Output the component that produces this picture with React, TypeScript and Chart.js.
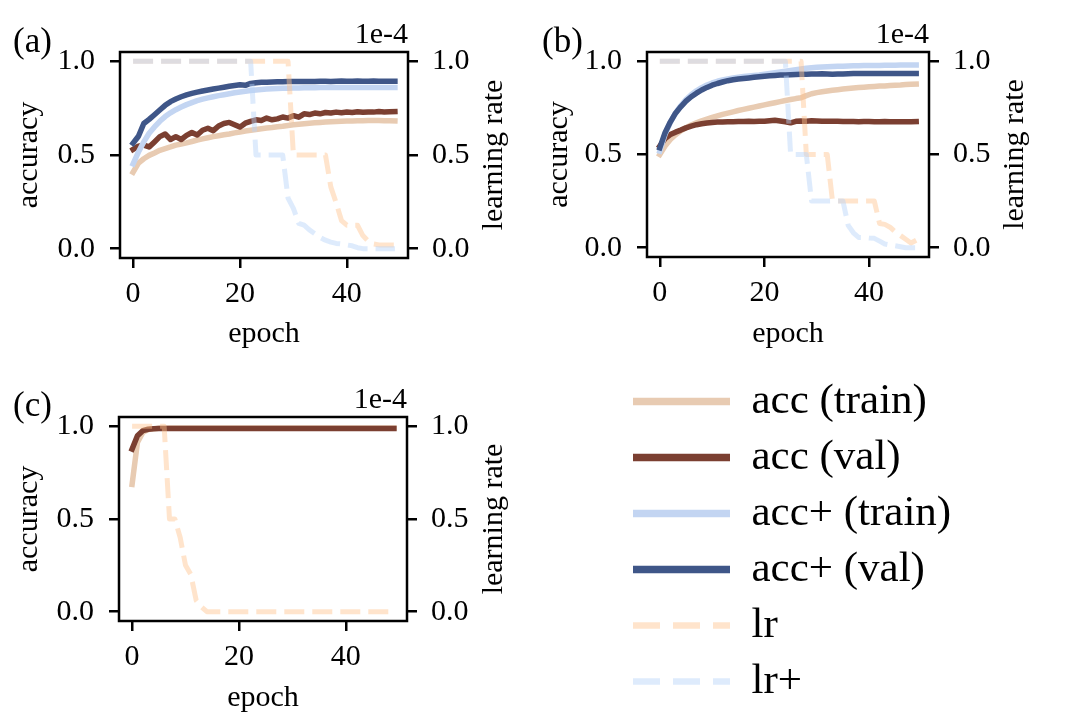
import { useEffect, useRef } from "react"
import { Chart, registerables } from "chart.js"

// Register Chart.js components
Chart.register(...registerables)

const SERIF = "'Liberation Serif', 'Times New Roman', Times, serif"

// x categories: epochs 0..49
const epochs = Array.from({ length: 50 }, (_, i) => i)
const epochTicks = [0, 20, 40]
const accTicks = [0, 0.5, 1]
const lrTicks = [0, 0.5, 1] // learning rate in units of 1e-4

// ---- panel (a) ----
const accTrainA = [
  0.408, 0.457, 0.48, 0.498, 0.511, 0.525, 0.534, 0.543, 0.553, 0.559,
  0.565, 0.572, 0.58, 0.586, 0.592, 0.598, 0.603, 0.608, 0.612, 0.618,
  0.623, 0.628, 0.632, 0.636, 0.64, 0.644, 0.647, 0.651, 0.654, 0.658,
  0.661, 0.664, 0.667, 0.67, 0.672, 0.674, 0.676, 0.678, 0.679, 0.68,
  0.681, 0.682, 0.683, 0.683, 0.684, 0.684, 0.684, 0.683, 0.683, 0.682,
]
const accValA = [
  0.53, 0.547, 0.553, 0.543, 0.57, 0.598, 0.612, 0.583, 0.598, 0.583,
  0.605, 0.62, 0.607, 0.632, 0.643, 0.63, 0.655, 0.668, 0.674, 0.662,
  0.649, 0.67, 0.68, 0.688, 0.684, 0.697, 0.688, 0.693, 0.703, 0.697,
  0.71, 0.702, 0.72, 0.716, 0.724, 0.72, 0.727, 0.724, 0.729, 0.726,
  0.73, 0.727, 0.731, 0.728, 0.73, 0.729, 0.732, 0.73, 0.731, 0.732,
]
const accPlusTrainA = [
  0.453, 0.516, 0.57, 0.616, 0.65, 0.68, 0.705, 0.725, 0.742, 0.756,
  0.769, 0.78, 0.79, 0.798, 0.805, 0.811, 0.817, 0.822, 0.827, 0.832,
  0.836, 0.84, 0.844, 0.847, 0.85, 0.852, 0.854, 0.855, 0.856, 0.857,
  0.858, 0.858, 0.859, 0.859, 0.859, 0.86, 0.86, 0.86, 0.86, 0.86,
  0.86, 0.86, 0.86, 0.86, 0.86, 0.86, 0.86, 0.86, 0.86, 0.86,
]
const accPlusValA = [
  0.563, 0.6, 0.668, 0.69, 0.715, 0.74, 0.765, 0.785, 0.799, 0.811,
  0.821, 0.829, 0.836, 0.842, 0.847, 0.852, 0.857, 0.862, 0.867, 0.871,
  0.875, 0.872, 0.882, 0.886, 0.888, 0.889, 0.89, 0.891, 0.891, 0.892,
  0.892, 0.893, 0.893, 0.892, 0.893, 0.894, 0.894, 0.893, 0.894, 0.895,
  0.894, 0.894, 0.895, 0.894, 0.894, 0.895, 0.894, 0.894, 0.894, 0.894,
]
const lrA = [
  1, 1, 1, 1, 1, 1, 1, 1, 1, 1,
  1, 1, 1, 1, 1, 1, 1, 1, 1, 1,
  1, 1, 1, 1, 1, 1, 1, 1, 1, 1,
  0.5, 0.5, 0.5, 0.5, 0.5, 0.5, 0.5, 0.33, 0.245, 0.15,
  0.125, 0.125, 0.125, 0.07, 0.04, 0.025, 0.02, 0.02, 0.02, 0.02,
]
const lrPlusA = [
  1, 1, 1, 1, 1, 1, 1, 1, 1, 1,
  1, 1, 1, 1, 1, 1, 1, 1, 1, 1,
  1, 1, 1, 0.5, 0.5, 0.5, 0.5, 0.5, 0.5, 0.27,
  0.215, 0.135, 0.125, 0.1, 0.08, 0.06, 0.045, 0.035, 0.028, 0.025,
  0.02, 0.015, 0.005, 0, 0, 0, 0, 0, 0, 0,
]

// ---- panel (b) ----
const accTrainB = [
  0.5, 0.545, 0.58, 0.606, 0.627, 0.644, 0.658, 0.67, 0.681, 0.69,
  0.699, 0.707, 0.715, 0.722, 0.729, 0.736, 0.742, 0.748, 0.754, 0.76,
  0.766, 0.772, 0.778, 0.784, 0.79, 0.795, 0.8, 0.804, 0.816, 0.826,
  0.832, 0.837, 0.841, 0.845, 0.848, 0.851, 0.854, 0.857, 0.859, 0.861,
  0.863, 0.865, 0.867, 0.868, 0.87, 0.872, 0.873, 0.875, 0.877, 0.878,
]
const accValB = [
  0.545, 0.585, 0.607, 0.62, 0.631, 0.643, 0.652, 0.66, 0.665, 0.669,
  0.672, 0.674, 0.675, 0.676, 0.676, 0.677, 0.677, 0.678, 0.677, 0.679,
  0.678, 0.681, 0.684, 0.68, 0.676, 0.67, 0.678, 0.68, 0.679, 0.681,
  0.68, 0.679, 0.679, 0.678, 0.678, 0.677, 0.677, 0.677, 0.676, 0.677,
  0.677, 0.676, 0.676, 0.677, 0.676, 0.676, 0.676, 0.676, 0.676, 0.677,
]
const accPlusTrainB = [
  0.518, 0.608, 0.672, 0.722, 0.762, 0.795, 0.821, 0.842, 0.859, 0.873,
  0.884, 0.893, 0.9, 0.906, 0.911, 0.915, 0.918, 0.921, 0.924, 0.927,
  0.931, 0.935, 0.939, 0.943, 0.947, 0.951, 0.955, 0.959, 0.963, 0.966,
  0.968, 0.97, 0.971, 0.972, 0.973, 0.974, 0.975, 0.976, 0.976, 0.977,
  0.977, 0.978, 0.978, 0.979, 0.979, 0.979, 0.98, 0.98, 0.98, 0.98,
]
const accPlusValB = [
  0.536, 0.617, 0.674, 0.722, 0.756, 0.786, 0.81, 0.829, 0.846, 0.86,
  0.872, 0.881, 0.889, 0.896, 0.901, 0.905, 0.908, 0.911, 0.914, 0.917,
  0.92, 0.922, 0.924, 0.926, 0.927, 0.928, 0.929, 0.93, 0.931, 0.932,
  0.932, 0.933, 0.932, 0.931, 0.932, 0.932, 0.933, 0.934, 0.934, 0.934,
  0.935, 0.935, 0.935, 0.934, 0.935, 0.935, 0.935, 0.935, 0.935, 0.935,
]
const lrB = [
  1, 1, 1, 1, 1, 1, 1, 1, 1, 1,
  1, 1, 1, 1, 1, 1, 1, 1, 1, 1,
  1, 1, 1, 1, 1, 1, 1, 1, 0.5, 0.5,
  0.5, 0.5, 0.5, 0.25, 0.25, 0.25, 0.25, 0.25, 0.25, 0.25,
  0.25, 0.25, 0.13, 0.125, 0.11, 0.085, 0.065, 0.045, 0.025, 0.04,
]
const lrPlusB = [
  1, 1, 1, 1, 1, 1, 1, 1, 1, 1,
  1, 1, 1, 1, 1, 1, 1, 1, 1, 1,
  1, 1, 1, 1, 1, 0.5, 0.5, 0.5, 0.5, 0.25,
  0.25, 0.25, 0.25, 0.25, 0.25, 0.25, 0.12, 0.08, 0.055, 0.055,
  0.052, 0.05, 0.035, 0.02, 0.015, 0.01, 0.005, 0, 0, 0,
]

// ---- panel (c) ----
const accTrainC = [
  0.687, 0.913, 0.967, 0.982, 0.986, 0.989, 0.99, 0.991, 0.991, 0.991,
  0.991, 0.991, 0.991, 0.991, 0.991, 0.991, 0.991, 0.991, 0.991, 0.991,
  0.991, 0.991, 0.991, 0.991, 0.991, 0.991, 0.991, 0.991, 0.991, 0.991,
  0.991, 0.991, 0.991, 0.991, 0.991, 0.991, 0.991, 0.991, 0.991, 0.991,
  0.991, 0.991, 0.991, 0.991, 0.991, 0.991, 0.991, 0.991, 0.991, 0.991,
]
const accValC = [
  0.877, 0.949, 0.976, 0.984, 0.987, 0.988, 0.988, 0.988, 0.988, 0.988,
  0.988, 0.988, 0.988, 0.988, 0.988, 0.988, 0.988, 0.988, 0.988, 0.988,
  0.988, 0.988, 0.988, 0.988, 0.988, 0.988, 0.988, 0.988, 0.988, 0.988,
  0.988, 0.988, 0.988, 0.988, 0.988, 0.988, 0.988, 0.988, 0.988, 0.988,
  0.988, 0.988, 0.988, 0.988, 0.988, 0.988, 0.988, 0.988, 0.988, 0.988,
]
const lrC = [
  1, 1, 1, 1, 1, 1, 1, 0.5, 0.5, 0.4,
  0.25, 0.2, 0.06, 0.025, 0, 0, 0, 0, 0, 0,
  0, 0, 0, 0, 0, 0, 0, 0, 0, 0,
  0, 0, 0, 0, 0, 0, 0, 0, 0, 0,
  0, 0, 0, 0, 0, 0, 0, 0, 0, 0,
]

// Series styling (lower order is drawn on top)
const seriesStyle = {
  accTrain: { label: "acc (train)", color: "#e8cbb2", dashed: false, axis: "y", order: 5 },
  accVal: { label: "acc (val)", color: "#7b3f31", dashed: false, axis: "y", order: 4 },
  accPlusTrain: { label: "acc+ (train)", color: "#c3d5f2", dashed: false, axis: "y", order: 3 },
  accPlusVal: { label: "acc+ (val)", color: "#3f5688", dashed: false, axis: "y", order: 2 },
  lr: { label: "lr", color: "rgba(255,195,142,0.45)", dashed: true, axis: "y2", order: 1 },
  lrPlus: { label: "lr+", color: "rgba(182,211,248,0.45)", dashed: true, axis: "y2", order: 0 },
}
type SeriesKey = keyof typeof seriesStyle
const legendKeys: SeriesKey[] = ["accTrain", "accVal", "accPlusTrain", "accPlusVal", "lr", "lrPlus"]

function makeDataset(key: SeriesKey, values: number[]) {
  const s = seriesStyle[key]
  return {
    label: s.label,
    data: values.map((v, i) => ({ x: epochs[i], y: v })),
    yAxisID: s.axis,
    borderColor: s.color,
    backgroundColor: s.color,
    borderWidth: s.dashed ? 5 : 5.5,
    borderDash: s.dashed ? [20, 8] : [],
    borderCapStyle: s.dashed ? "butt" : "square",
    borderJoinStyle: "round",
    pointRadius: 0,
    tension: 0,
    order: s.order,
  }
}

// frame, panel letter, offset text and right-hand axis title
const panelDecor = {
  id: "panelDecor",
  afterDraw(chart: any, _args: any, opts: any) {
    const { ctx, chartArea: a } = chart
    ctx.save()
    ctx.lineWidth = 2.5
    ctx.strokeStyle = "#000"
    ctx.strokeRect(a.left, a.top, a.right - a.left, a.bottom - a.top)
    ctx.fillStyle = "#000"
    ctx.textBaseline = "alphabetic"
    ctx.textAlign = "left"
    ctx.font = `35px ${SERIF}`
    ctx.fillText(opts.label, opts.labelX, 52)
    ctx.font = `30px ${SERIF}`
    ctx.textAlign = "right"
    ctx.fillText("1e-4", a.right, a.top - 9)
    ctx.translate(opts.rightTitleX, (a.top + a.bottom) / 2)
    ctx.rotate(-Math.PI / 2)
    ctx.textAlign = "center"
    ctx.textBaseline = "middle"
    ctx.fillText("learning rate", 0, 0)
    ctx.restore()
  },
}

interface Area {
  left: number
  right: number
  top: number
  bottom: number
}

interface PanelProps {
  left: number
  top: number
  width: number
  height: number
  area: Area
  label: string
  labelX: number
  rightTitleX: number
  series: [SeriesKey, number[]][]
}

const tickFont = { family: SERIF, size: 30 }
const tickGrid = { drawOnChartArea: false, drawTicks: true, tickLength: 10, color: "#000", lineWidth: 2.5 }

function Panel({ left, top, width, height, area, label, labelX, rightTitleX, series }: PanelProps) {
  const canvasRef = useRef<HTMLCanvasElement>(null)

  useEffect(() => {
    if (!canvasRef.current) return
    const chart = new Chart(canvasRef.current, {
      type: "line",
      data: { datasets: series.map(([k, v]) => makeDataset(k, v)) as any },
      options: {
        responsive: false,
        animation: false,
        layout: { padding: { top: area.top, left: 0, right: 0, bottom: 0 } },
        scales: {
          x: {
            type: "linear",
            position: "bottom",
            min: -2.45,
            max: 51.45,
            afterBuildTicks: (s: any) => {
              s.ticks = epochTicks.map((v) => ({ value: v }))
            },
            afterFit: (s: any) => {
              s.height = height - area.bottom
            },
            ticks: { font: tickFont, color: "#000", padding: 8, callback: (v: any) => String(v) },
            grid: tickGrid,
            border: { display: false },
            title: { display: true, text: "epoch", color: "#000", font: tickFont, padding: { top: 0, bottom: 12 } },
          },
          y: {
            type: "linear",
            position: "left",
            min: -0.05,
            max: 1.05,
            afterBuildTicks: (s: any) => {
              s.ticks = accTicks.map((v) => ({ value: v }))
            },
            afterFit: (s: any) => {
              s.width = area.left
            },
            ticks: { font: tickFont, color: "#000", padding: 15, callback: (v: any) => Number(v).toFixed(1) },
            grid: tickGrid,
            border: { display: false },
            title: { display: true, text: "accuracy", color: "#000", font: tickFont, padding: { top: 11, bottom: 0 } },
          },
          y2: {
            type: "linear",
            position: "right",
            min: -0.05,
            max: 1.05,
            afterBuildTicks: (s: any) => {
              s.ticks = lrTicks.map((v) => ({ value: v }))
            },
            afterFit: (s: any) => {
              s.width = width - area.right
            },
            ticks: { font: tickFont, color: "#000", padding: 14, callback: (v: any) => Number(v).toFixed(1) },
            grid: tickGrid,
            border: { display: false },
          },
        },
        plugins: {
          legend: { display: false },
          tooltip: { enabled: false },
          panelDecor: { label, labelX, rightTitleX },
        } as any,
      },
      plugins: [panelDecor],
    })

    return () => {
      chart.destroy()
    }
  }, [])

  return (
    <canvas
      ref={canvasRef}
      width={width}
      height={height}
      style={{ position: "absolute", left, top, width, height }}
    />
  )
}

function LegendBox() {
  const canvasRef = useRef<HTMLCanvasElement>(null)

  useEffect(() => {
    if (!canvasRef.current) return
    const chart = new Chart(canvasRef.current, {
      type: "line",
      data: {
        datasets: legendKeys.map((k) => ({
          label: seriesStyle[k].label,
          data: [],
          borderColor: seriesStyle[k].color,
          borderDash: seriesStyle[k].dashed ? [27, 13] : [],
        })),
      },
      options: {
        responsive: false,
        animation: false,
        layout: { padding: 0 },
        scales: { x: { type: "linear", display: false }, y: { display: false } },
        plugins: {
          tooltip: { enabled: false },
          legend: {
            position: "left",
            align: "start",
            maxWidth: 420,
            labels: {
              usePointStyle: true,
              pointStyleWidth: 97,
              padding: 13,
              color: "#000",
              font: { family: SERIF, size: 43 },
              generateLabels: (c: any) =>
                c.data.datasets.map((d: any, i: number) => ({
                  text: d.label,
                  fillStyle: "transparent",
                  strokeStyle: d.borderColor,
                  lineWidth: d.borderDash.length ? 6.5 : 7.5,
                  lineDash: d.borderDash,
                  lineCap: "butt",
                  pointStyle: "line",
                  hidden: false,
                  fontColor: "#000",
                  datasetIndex: i,
                })),
            },
          },
        },
      },
    })

    return () => {
      chart.destroy()
    }
  }, [])

  return (
    <canvas
      ref={canvasRef}
      width={440}
      height={360}
      style={{ position: "absolute", left: 620, top: 367, width: 440, height: 360 }}
    />
  )
}

export default function App() {
  return (
    <div style={{ position: "absolute", left: 0, top: 0, width: 1080, height: 728, background: "#fff", overflow: "hidden" }}>
      <Panel
        left={0}
        top={0}
        width={540}
        height={364}
        area={{ left: 120, right: 408, top: 52, bottom: 258 }}
        label="(a)"
        labelX={13}
        rightTitleX={494}
        series={[
          ["accTrain", accTrainA],
          ["accVal", accValA],
          ["accPlusTrain", accPlusTrainA],
          ["accPlusVal", accPlusValA],
          ["lr", lrA],
          ["lrPlus", lrPlusA],
        ]}
      />
      <Panel
        left={530}
        top={0}
        width={550}
        height={364}
        area={{ left: 117, right: 399, top: 52, bottom: 257 }}
        label="(b)"
        labelX={12}
        rightTitleX={485}
        series={[
          ["accTrain", accTrainB],
          ["accVal", accValB],
          ["accPlusTrain", accPlusTrainB],
          ["accPlusVal", accPlusValB],
          ["lr", lrB],
          ["lrPlus", lrPlusB],
        ]}
      />
      <Panel
        left={0}
        top={364}
        width={540}
        height={364}
        area={{ left: 119, right: 407, top: 53, bottom: 257 }}
        label="(c)"
        labelX={13}
        rightTitleX={494}
        series={[
          ["accTrain", accTrainC],
          ["accVal", accValC],
          ["lr", lrC],
        ]}
      />
      <LegendBox />
    </div>
  )
}
